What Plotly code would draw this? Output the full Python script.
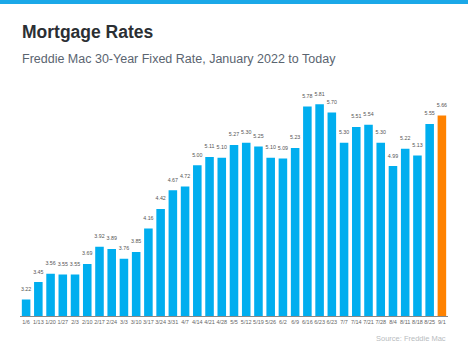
import plotly.graph_objects as go

dates = ["1/6","1/13","1/20","1/27","2/3","2/10","2/17","2/24","3/3","3/10","3/17","3/24","3/31",
         "4/7","4/14","4/21","4/28","5/5","5/12","5/19","5/26","6/2","6/9","6/16","6/23","6/23",
         "7/7","7/14","7/21","7/28","8/4","8/11","8/18","8/25","9/1"]
rates = [3.22,3.45,3.56,3.55,3.55,3.69,3.92,3.89,3.76,3.85,4.16,4.42,4.67,
         4.72,5.00,5.11,5.10,5.27,5.30,5.25,5.10,5.09,5.23,5.78,5.81,5.70,
         5.30,5.51,5.54,5.30,4.99,5.22,5.13,5.55,5.66]

BLUE = "#00aeef"
ORANGE = "#ff8200"
colors = [BLUE] * (len(rates) - 1) + [ORANGE]
xs = list(range(len(rates)))

fig = go.Figure()
fig.add_trace(go.Bar(
    x=xs, y=rates, marker=dict(color=colors, line=dict(width=0)),
    hoverinfo="skip",
))
fig.add_trace(go.Scatter(
    x=xs, y=rates, mode="markers+text", text=[f"{v:.2f}" for v in rates],
    marker=dict(size=10, opacity=0),
    textposition="top center",
    textfont=dict(size=5.3, color="#555", family="Liberation Sans"),
    cliponaxis=False,
))

fig.update_layout(
    width=468, height=351,
    margin=dict(l=20, r=20, t=90, b=35),
    paper_bgcolor="white", plot_bgcolor="white",
    bargap=0.3,
    showlegend=False,
    font=dict(family="Liberation Sans"),
    xaxis=dict(tickmode="array", tickvals=xs, ticktext=dates, tickangle=0,
               tickfont=dict(size=5.5, color="#666"), showgrid=False,
               showline=True, linecolor="#888", linewidth=1, ticks="",
               range=[-0.5, len(rates) - 0.5], fixedrange=True),
    yaxis=dict(range=[3.0, 6.0], visible=False, fixedrange=True),
    shapes=[dict(type="rect", xref="paper", yref="paper", x0=-0.1, x1=1.1,
                 y0=1.381, y1=1.45, fillcolor="#1aa8e8", line=dict(width=0), layer="above")],
    annotations=[
        dict(text="<b>Mortgage Rates</b>", xref="paper", yref="paper", x=0, y=(316-32)/226,
             xanchor="left", yanchor="middle", showarrow=False,
             font=dict(size=17.5, color="#2b2f33", family="Liberation Sans")),
        dict(text="Freddie Mac 30-Year Fixed Rate, January 2022 to Today", xref="paper", yref="paper",
             x=0, y=(316-59)/226, xanchor="left", yanchor="middle", showarrow=False,
             font=dict(size=12.5, color="#5a6470", family="Liberation Sans")),
        dict(text="Source: Freddie Mac", xref="paper", yref="paper", x=1.0, y=(316-338)/226,
             xanchor="right", yanchor="middle", showarrow=False,
             font=dict(size=7.5, color="#b8bcc0", family="Liberation Sans")),
    ],
)

fig.write_html("out.html")
